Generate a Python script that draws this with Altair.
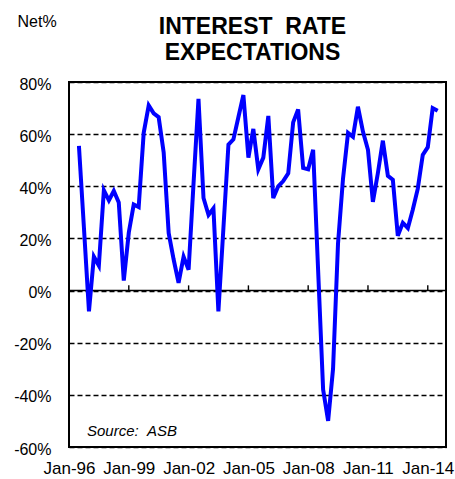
import altair as alt
import pandas as pd

# Quarterly net % expecting higher interest rates
values = [55.5, 24, -8, 13, 9.6, 38.5, 34.6, 38.2, 33.8, 3.8,
          22.3, 33, 32, 60.5, 71, 68, 66.5, 53, 22, 12,
          3, 13, 8, 41, 73.5, 35.5, 29, 31.5, -8, 24,
          56, 58, 66.5, 75, 51, 62, 46.5, 51, 67, 35.5,
          40, 42, 45, 64.5, 69.5, 47, 46.5, 54, 8, -38,
          -50, -30, 18, 43, 60.5, 59, 70.5, 61, 54, 34,
          45, 57.5, 44, 42.5, 21, 26, 24, 31, 39, 52,
          55, 70, 69]
dates = pd.date_range("1996-07-01", periods=len(values), freq="3MS").strftime("%Y-%m-%dT00:00:00").tolist()

tick_years = [1996, 1999, 2002, 2005, 2008, 2011, 2014]
y_ticks = [-60, -40, -20, 0, 20, 40, 60, 80]

df = pd.DataFrame({"date": dates, "value": values})
ticks_df = pd.DataFrame({"date": [f"{y}-01-01T00:00:00" for y in tick_years[1:]],
                         "y0": [0] * (len(tick_years) - 1),
                         "y1": [2] * (len(tick_years) - 1)})
single = pd.DataFrame({"v": [0]})

x_scale = alt.Scale(domain=[alt.DateTime(year=1996, month=1, date=1),
                            alt.DateTime(year=2014, month=12, date=1)])
y_scale = alt.Scale(domain=[-60, 80], nice=False, zero=False)

x_axis = alt.Axis(values=[alt.DateTime(year=y, month=1, date=1) for y in tick_years],
                  format="%b-%y", labelFontSize=17, labelColor="black",
                  ticks=False, domain=False, grid=False, title=None,
                  labelPadding=13, labelOverlap=False, labelFlush=False)
y_axis = alt.Axis(values=y_ticks, labelExpr="datum.value + '%'", labelFontSize=16,
                  labelColor="black", ticks=False, domain=False, grid=True,
                  gridColor="black", gridDash=[5, 3], gridWidth=1.3, gridOpacity=1,
                  labelPadding=18, labelOffset=2,
                  title="Net%", titleAngle=0, titleX=-52, titleY=-56,
                  titleAlign="left", titleBaseline="alphabetic",
                  titleFontSize=16, titleFontWeight="normal", titleColor="black")

line = alt.Chart(df).mark_line(color="#0000FF", strokeWidth=4).encode(
    x=alt.X("date:T", scale=x_scale, axis=x_axis),
    y=alt.Y("value:Q", scale=y_scale, axis=y_axis),
)

zero = alt.Chart(single).mark_rule(color="black", strokeWidth=1.6).encode(y=alt.Y("v:Q", scale=y_scale))

yticks = alt.Chart(ticks_df).mark_rule(color="black", strokeWidth=1.4).encode(
    x=alt.X("date:T", scale=x_scale),
    y=alt.Y("y0:Q", scale=y_scale),
    y2="y1:Q",
)

source = alt.Chart(single).mark_text(text="Source:\u00a0\u00a0ASB", fontStyle="italic", fontSize=15,
                                     align="left", baseline="alphabetic", color="black").encode(
    x=alt.value(18), y=alt.value(354)
)

chart = alt.layer(zero, yticks, line, source).properties(
    width=377, height=365,
    autosize=alt.AutoSizeParams(type="none"),
    padding={"left": 69, "top": 82, "right": 9, "bottom": 32},
    title=alt.TitleParams(text=["INTEREST\u00a0\u00a0RATE", "EXPECTATIONS"], fontSize=23,
                          fontWeight="bold", lineHeight=26, anchor="middle",
                          frame="group", offset=-52, dx=-5, color="black"),
).configure(font="Liberation Sans").configure_view(stroke="black", strokeWidth=2)

chart.save("out.html", embed_options={"renderer": "svg", "actions": False})
